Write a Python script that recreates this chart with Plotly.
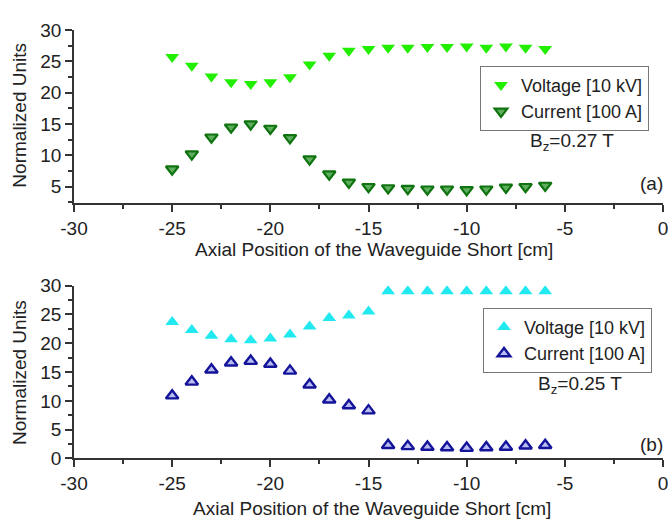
import plotly.graph_objects as go

positions = [-25, -24, -23, -22, -21, -20, -19, -18, -17, -16, -15, -14, -13, -12, -11, -10, -9, -8, -7, -6]

voltage_a = [25.7, 24.3, 22.6, 21.7, 21.4, 21.7, 22.5, 24.5, 25.9, 26.7, 27.0, 27.2, 27.2, 27.3, 27.3, 27.4, 27.2, 27.4, 27.2, 27.0]
current_a = [7.8, 10.2, 12.9, 14.5, 15.0, 14.3, 12.8, 9.4, 7.0, 5.7, 5.0, 4.8, 4.7, 4.6, 4.6, 4.5, 4.6, 4.9, 5.0, 5.2]

voltage_b = [23.7, 22.3, 21.3, 20.7, 20.5, 20.8, 21.5, 22.9, 24.4, 24.8, 25.5, 29.0, 29.0, 29.0, 29.0, 29.0, 29.0, 29.0, 29.0, 29.0]
current_b = [10.9, 13.3, 15.4, 16.6, 16.9, 16.4, 15.2, 12.8, 10.2, 9.2, 8.3, 2.3, 2.1, 2.0, 1.9, 1.8, 1.9, 2.0, 2.2, 2.3]

x_ticks = [-30, -25, -20, -15, -10, -5, 0]
x_tick_labels = ["-30", "-25", "-20", "-15", "-10", "-5", "0"]
y_ticks_a = [5, 10, 15, 20, 25, 30]
y_ticks_b = [0, 5, 10, 15, 20, 25, 30]

series_names = ["Voltage [10 kV]", "Current [100 A]"]
field_labels = ["B<sub>z</sub>=0.27 T", "B<sub>z</sub>=0.25 T"]
panel_labels = ["(a)", "(b)"]
x_title = "Axial Position of the Waveguide Short [cm]"
y_title = "Normalized Units"

FONT = "Liberation Sans, Arial, sans-serif"
AX = "#333333"
TXT = "#222222"

fig = go.Figure()

fig.add_trace(go.Scatter(x=positions, y=voltage_a, mode="markers", name=series_names[0],
                         marker=dict(symbol="triangle-down", size=12, color="#22ee00",
                                     line=dict(width=0)),
                         xaxis="x", yaxis="y", legend="legend"))
fig.add_trace(go.Scatter(x=positions, y=current_a, mode="markers", name=series_names[1],
                         marker=dict(symbol="triangle-down", size=11, color="#5fae5f",
                                     line=dict(width=2.2, color="#0f730f")),
                         xaxis="x", yaxis="y", legend="legend"))
fig.add_trace(go.Scatter(x=positions, y=voltage_b, mode="markers", name=series_names[0],
                         marker=dict(symbol="triangle-up", size=12, color="#22e8f0",
                                     line=dict(width=0)),
                         xaxis="x2", yaxis="y2", legend="legend2"))
fig.add_trace(go.Scatter(x=positions, y=current_b, mode="markers", name=series_names[1],
                         marker=dict(symbol="triangle-up", size=11, color="#b8bcf0",
                                     line=dict(width=2.4, color="#14149a")),
                         xaxis="x2", yaxis="y2", legend="legend2"))

tickfont = dict(family=FONT, size=19, color=TXT)
minor = dict(ticklen=4, tickcolor=AX, ticks="outside", dtick=2.5)

xcommon = dict(range=[-30, 0], tickvals=x_ticks, ticktext=x_tick_labels, ticks="outside",
               ticklen=7, tickwidth=1.5, tickcolor=AX, showline=True, linecolor=AX, linewidth=1.5,
               showgrid=False, zeroline=False, tickfont=tickfont, minor=minor)
ycommon = dict(ticks="outside", ticklen=7, tickwidth=1.5, tickcolor=AX, showline=True,
               linecolor=AX, linewidth=1.5, showgrid=False, zeroline=False, tickfont=tickfont,
               minor=minor)

legend_font = dict(family=FONT, size=18, color=TXT)

fig.update_layout(
    width=672, height=529,
    margin=dict(l=74, r=9, t=0, b=0),
    paper_bgcolor="white", plot_bgcolor="white",
    xaxis=dict(domain=[0, 1], anchor="y", **xcommon),
    yaxis=dict(domain=[1 - 201 / 529, 1 - 21 / 529], anchor="x", range=[2.4, 30],
               tickvals=y_ticks_a, **ycommon),
    xaxis2=dict(domain=[0, 1], anchor="y2", **xcommon),
    yaxis2=dict(domain=[1 - 467 / 529, 1 - 287 / 529], anchor="x2", range=[0, 30],
                tickvals=y_ticks_b, **ycommon),
    legend=dict(x=(480 - 74) / 589, y=1 - 92 / 529, xanchor="left", yanchor="middle",
                bordercolor="#777777", borderwidth=1, bgcolor="white",
                font=legend_font, tracegroupgap=0, itemwidth=30),
    legend2=dict(x=(483 - 74) / 589, y=1 - 344 / 529, xanchor="left", yanchor="middle",
                 bordercolor="#777777", borderwidth=1, bgcolor="white",
                 font=legend_font, tracegroupgap=0, itemwidth=30),
    showlegend=True,
)

ann_font = dict(family=FONT, size=19, color=TXT)
annotations = [
    dict(text=x_title, x=(374 - 74) / 589, y=1 - 249 / 529),
    dict(text=x_title, x=(372 - 74) / 589, y=1 - 519 / 529),
    dict(text=y_title, x=(20 - 74) / 589, y=1 - 110 / 529, textangle=-90),
    dict(text=y_title, x=(20 - 74) / 589, y=1 - 378 / 529, textangle=-90),
    dict(text=field_labels[0], x=(572 - 74) / 589, y=1 - 137 / 529),
    dict(text=field_labels[1], x=(580 - 74) / 589, y=1 - 390 / 529),
    dict(text=panel_labels[0], x=(651 - 74) / 589, y=1 - 181 / 529),
    dict(text=panel_labels[1], x=(651 - 74) / 589, y=1 - 452 / 529),
]
for a in annotations:
    fig.add_annotation(xref="paper", yref="paper", showarrow=False, xanchor="center",
                       yanchor="middle", font=ann_font, **a)

fig.write_html("out.html")
